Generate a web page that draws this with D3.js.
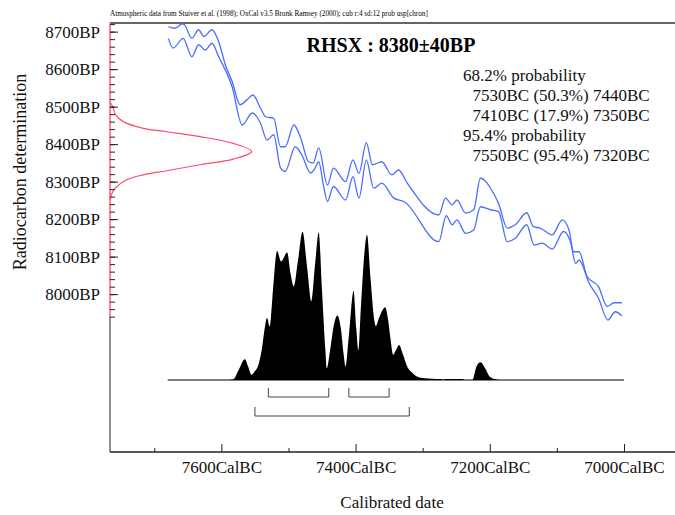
<!DOCTYPE html>
<html>
<head>
<meta charset="utf-8">
<script src="https://cdn.jsdelivr.net/npm/d3@7"></script>
<style>
  body { margin: 0; background: #fff; }
  text { font-family: "Liberation Serif", "Times New Roman", serif; }
</style>
</head>
<body>
<div id="chart"></div>
<script>
// calibration curve, upper and lower bounds [calBC, BP]
const calUpper = [
  [7679, 8713], [7669, 8709], [7658, 8721], [7655, 8718], [7644, 8682], [7634, 8705],
  [7626, 8687], [7614, 8705], [7604, 8673], [7594, 8611], [7584, 8567], [7572, 8505],
  [7562, 8518], [7553, 8531], [7542, 8497], [7534, 8473], [7522, 8469], [7512, 8393],
  [7505, 8393], [7492, 8451], [7482, 8417], [7470, 8353], [7463, 8350], [7455, 8390],
  [7442, 8291], [7433, 8336], [7415, 8300], [7404, 8358], [7395, 8322], [7384, 8404],
  [7375, 8345], [7361, 8353], [7346, 8318], [7336, 8331], [7323, 8296], [7276, 8211],
  [7266, 8256], [7256, 8238], [7249, 8251], [7236, 8216], [7224, 8225], [7214, 8309],
  [7204, 8296], [7199, 8283], [7187, 8242], [7174, 8176], [7162, 8185], [7145, 8217],
  [7135, 8180], [7125, 8176], [7107, 8158], [7092, 8198], [7082, 8171], [7075, 8113],
  [7067, 8113], [7055, 8047], [7038, 8020], [7025, 7967], [7015, 7977], [7003, 7977]
];
const calLower = [
  [7679, 8682], [7672, 8656], [7657, 8682], [7644, 8633], [7634, 8665], [7624, 8651],
  [7614, 8669], [7604, 8633], [7584, 8553], [7569, 8451], [7554, 8483], [7542, 8457],
  [7532, 8411], [7522, 8425], [7512, 8337], [7505, 8327], [7490, 8393], [7480, 8371],
  [7467, 8323], [7460, 8337], [7455, 8353], [7448, 8291], [7442, 8247], [7433, 8287],
  [7415, 8251], [7404, 8313], [7395, 8256], [7384, 8358], [7373, 8282], [7361, 8296],
  [7343, 8256], [7328, 8247], [7276, 8140], [7265, 8209], [7256, 8185], [7249, 8198],
  [7236, 8162], [7224, 8171], [7214, 8233], [7199, 8225], [7187, 8220], [7174, 8140],
  [7162, 8149], [7145, 8185], [7134, 8131], [7122, 8136], [7107, 8120], [7090, 8167],
  [7080, 8140], [7072, 8082], [7067, 8091], [7052, 8029], [7038, 7989], [7024, 7931],
  [7013, 7953], [7003, 7942]
];

// radiocarbon determination 8380±40BP, relative density [BP, density]
const c14Curve = [
  [8513, 0], [8499, 0.02], [8478, 0.04], [8460, 0.094], [8442, 0.235], [8433, 0.40],
  [8420, 0.635], [8402, 0.87], [8380, 1.0], [8360, 0.87], [8345, 0.635], [8329, 0.40],
  [8318, 0.235], [8305, 0.118], [8282, 0.035], [8265, 0.01], [8251, 0]
];

// calibrated probability distribution [calBC, relative probability]
const calProb = [
  [7590, 0], [7582, 0.005], [7575, 0.06], [7565, 0.14], [7560, 0.09], [7555, 0.035],
  [7550, 0.06], [7545, 0.10], [7540, 0.2], [7535, 0.36], [7532, 0.42], [7528, 0.36],
  [7524, 0.55], [7517, 0.87], [7511, 0.80], [7502, 0.86], [7497, 0.72], [7492, 0.63],
  [7486, 0.8], [7479, 1.0], [7472, 0.75], [7466, 0.53], [7460, 0.8], [7455, 0.995],
  [7450, 0.6], [7445, 0.2], [7443, 0.078], [7438, 0.2], [7432, 0.38], [7427, 0.435],
  [7422, 0.35], [7418, 0.18], [7415, 0.09], [7410, 0.3], [7403, 0.60], [7399, 0.35],
  [7396, 0.20], [7392, 0.5], [7387, 0.85], [7383, 0.98], [7378, 0.7], [7372, 0.4],
  [7370, 0.364], [7365, 0.42], [7360, 0.47], [7356, 0.49], [7352, 0.42], [7348, 0.28],
  [7344, 0.17], [7340, 0.2], [7335, 0.236], [7330, 0.18], [7323, 0.09], [7316, 0.05],
  [7310, 0.027], [7300, 0.013], [7292, 0.01], [7280, 0.007], [7272, 0.007], [7270, 0],
  [7267, 0.006], [7240, 0.006], [7238, 0], [7226, 0], [7220, 0.09], [7214, 0.12],
  [7207, 0.08], [7199, 0.018], [7190, 0.004], [7180, 0]
];

const ranges68 = [[7530, 7440], [7410, 7350]];
const ranges95 = [[7550, 7320]];

const xMajor = [7600, 7400, 7200, 7000];
const xMinor = [7700, 7500, 7300, 7100];
const yMajor = d3.range(8000, 8701, 100);
const yMinor = d3.range(7940, 8721, 20);

const headerText = "Atmospheric data from Stuiver et al. (1998); OxCal v3.5 Bronk Ramsey (2000); cub r:4 sd:12 prob usp[chron]";
const titleText = "RHSX : 8380\u00b140BP";
const probLines = [
  ["68.2% probability", 0],
  ["7530BC (50.3%) 7440BC", 1],
  ["7410BC (17.9%) 7350BC", 1],
  ["95.4% probability", 0],
  ["7550BC (95.4%) 7320BC", 1]
];

const width = 675, height = 515;
const plot = { left: 110, top: 23, right: 675, bottom: 452 };

const svg = d3.select("#chart").append("svg")
  .attr("width", width)
  .attr("height", height);

const x = d3.scaleLinear().domain([7766, 6924]).range([plot.left, plot.right]);
const y = d3.scaleLinear().domain([8723, 7579]).range([plot.top, plot.bottom]);
const yProb = d3.scaleLinear().domain([0, 1]).range([380, 231.7]);
const xDens = d3.scaleLinear().domain([0, 1]).range([plot.left, 251.7]);

svg.append("clipPath").attr("id", "plotclip")
  .append("rect")
  .attr("x", plot.left).attr("y", plot.top)
  .attr("width", plot.right - plot.left).attr("height", plot.bottom - plot.top);

// header
svg.append("text")
  .attr("x", plot.left).attr("y", 16)
  .attr("font-size", 7.2)
  .text(headerText);

// top frame line
svg.append("line")
  .attr("x1", plot.left).attr("x2", plot.right)
  .attr("y1", plot.top).attr("y2", plot.top)
  .attr("stroke", "#333").attr("stroke-width", 1.5);

// calibration curve
const calLine = d3.line()
  .x(d => x(d[0]))
  .y(d => y(d[1]))
  .curve(d3.curveMonotoneX);

const curves = svg.append("g").attr("clip-path", "url(#plotclip)");
[calUpper, calLower].forEach(c => {
  curves.append("path")
    .attr("d", calLine(c))
    .attr("fill", "none")
    .attr("stroke", "#4d6dff")
    .attr("stroke-width", 1.3);
});

// radiocarbon determination on y axis
svg.append("path")
  .attr("d", d3.line()
    .x(d => xDens(d[1]))
    .y(d => y(d[0]))
    .curve(d3.curveCatmullRom)(c14Curve))
  .attr("fill", "none")
  .attr("stroke", "#ff4a6a")
  .attr("stroke-width", 1.2);

// calibrated distribution
svg.append("path")
  .attr("d", d3.area()
    .x(d => x(d[0]))
    .y0(yProb(0))
    .y1(d => yProb(d[1]))
    .curve(d3.curveMonotoneX)(calProb))
  .attr("fill", "#000");

svg.append("line")
  .attr("x1", x(7680)).attr("x2", x(7000))
  .attr("y1", yProb(0)).attr("y2", yProb(0))
  .attr("stroke", "#000").attr("stroke-width", 1.2);

// range brackets
function bracket(r, yb) {
  svg.append("path")
    .attr("d", `M${x(r[0])},${yb - 9}V${yb}H${x(r[1])}V${yb - 9}`)
    .attr("fill", "none")
    .attr("stroke", "#444")
    .attr("stroke-width", 1);
}
ranges68.forEach(r => bracket(r, 397));
ranges95.forEach(r => bracket(r, 416));

// y axis
svg.append("line")
  .attr("x1", plot.left).attr("x2", plot.left)
  .attr("y1", y(7940)).attr("y2", plot.bottom)
  .attr("stroke", "#222");
svg.append("line")
  .attr("x1", plot.left).attr("x2", plot.left)
  .attr("y1", plot.top).attr("y2", y(7940))
  .attr("stroke", "#ff5a78").attr("stroke-width", 1.5);

svg.append("g")
  .attr("transform", `translate(${plot.left},0)`)
  .call(d3.axisLeft(y).tickValues(yMinor).tickSizeInner(-5).tickSizeOuter(0).tickFormat(""))
  .call(g => g.select(".domain").remove())
  .call(g => g.selectAll("line").attr("stroke", "#222"));

svg.append("g")
  .attr("transform", `translate(${plot.left},0)`)
  .call(d3.axisLeft(y).tickValues(yMajor).tickSizeInner(-8).tickSizeOuter(0)
    .tickPadding(10).tickFormat(d => d + "BP"))
  .call(g => g.select(".domain").remove())
  .call(g => g.selectAll("line").attr("stroke", "#222"))
  .call(g => g.selectAll("text")
    .attr("font-size", 17)
    .attr("fill", "#111")
    .style("font-family", '"Liberation Serif", serif'));

// x axis
svg.append("line")
  .attr("x1", plot.left).attr("x2", plot.right)
  .attr("y1", plot.bottom).attr("y2", plot.bottom)
  .attr("stroke", "#222").attr("stroke-width", 1.5);

svg.append("g")
  .attr("transform", `translate(0,${plot.bottom})`)
  .call(d3.axisBottom(x).tickValues(xMinor).tickSizeInner(-4).tickSizeOuter(0).tickFormat(""))
  .call(g => g.select(".domain").remove())
  .call(g => g.selectAll("line").attr("stroke", "#222"));

svg.append("g")
  .attr("transform", `translate(0,${plot.bottom})`)
  .call(d3.axisBottom(x).tickValues(xMajor).tickSizeInner(-8).tickSizeOuter(0)
    .tickPadding(9).tickFormat(d => d + "CalBC"))
  .call(g => g.select(".domain").remove())
  .call(g => g.selectAll("line").attr("stroke", "#222"))
  .call(g => g.selectAll("text")
    .attr("font-size", 17)
    .attr("fill", "#111")
    .style("font-family", '"Liberation Serif", serif'));

// axis titles
svg.append("text")
  .attr("transform", "translate(26,172) rotate(-90)")
  .attr("text-anchor", "middle")
  .attr("font-size", 18)
  .attr("fill", "#111")
  .text("Radiocarbon determination");

svg.append("text")
  .attr("x", 392).attr("y", 508)
  .attr("text-anchor", "middle")
  .attr("font-size", 17)
  .attr("fill", "#111")
  .text("Calibrated date");

// title and probability text
svg.append("text")
  .attr("x", 391).attr("y", 52)
  .attr("text-anchor", "middle")
  .attr("font-size", 20)
  .attr("font-weight", "bold")
  .text(titleText);

svg.append("g").selectAll("text")
  .data(probLines)
  .join("text")
  .attr("x", d => 463 + d[1] * 9.5)
  .attr("y", (d, i) => 81 + i * 20)
  .attr("font-size", 17)
  .attr("fill", "#111")
  .text(d => d[0]);
</script>
</body>
</html>
